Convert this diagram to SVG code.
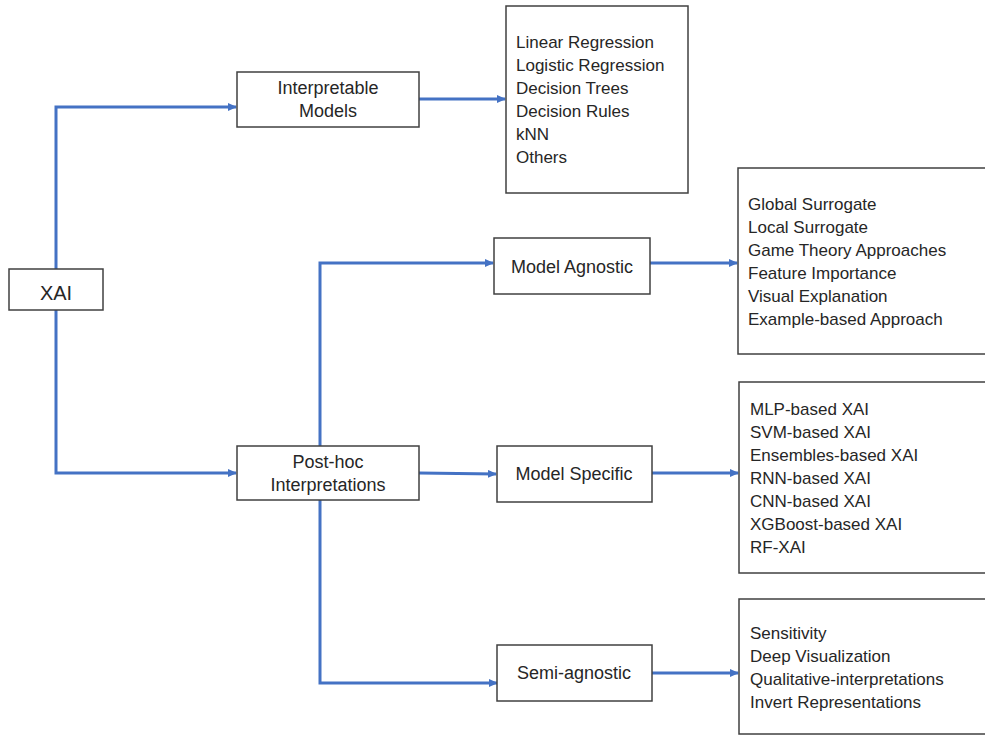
<svg xmlns="http://www.w3.org/2000/svg" width="985" height="735" viewBox="0 0 985 735">
<defs>
<marker id="ah" markerWidth="9" markerHeight="8" refX="8" refY="4" orient="auto" markerUnits="userSpaceOnUse">
<path d="M0,0 L9,4 L0,8 Z" fill="#4472C4"/>
</marker>
<style>
.box{fill:#fff;stroke:#404040;stroke-width:1.5}
.t{font-family:"Liberation Sans",Arial,sans-serif;font-size:17px;fill:#262626}
.c{text-anchor:middle;font-size:18px}
.con{fill:none;stroke:#4472C4;stroke-width:3;marker-end:url(#ah)}
</style>
</defs>
<rect width="985" height="735" fill="#fff"/>
<g id="connectors">
<path class="con" d="M56,269 V107 H236"/>
<path class="con" d="M56,310 V473 H236"/>
<path class="con" d="M419,99 H505"/>
<path class="con" d="M320,446 V263 H493"/>
<path class="con" d="M320,500 V683 H497"/>
<path class="con" d="M419,473 L496,474"/>
<path class="con" d="M650,263 H737"/>
<path class="con" d="M652,473 H738"/>
<path class="con" d="M652,673 H738"/>
</g>
<g id="xai">
<rect class="box" x="9" y="269" width="94" height="41"/>
<text class="t c" x="56" y="300" style="font-size:20px">XAI</text>
</g>
<g id="interpretable">
<rect class="box" x="237" y="72" width="182" height="55"/>
<text class="t c" x="328" y="94">Interpretable</text>
<text class="t c" x="328" y="117">Models</text>
</g>
<g id="interpretable-list">
<rect class="box" x="506" y="6" width="182" height="187"/>
<text class="t" x="516" y="48">Linear Regression</text>
<text class="t" x="516" y="71">Logistic Regression</text>
<text class="t" x="516" y="94">Decision Trees</text>
<text class="t" x="516" y="117">Decision Rules</text>
<text class="t" x="516" y="140">kNN</text>
<text class="t" x="516" y="163">Others</text>
</g>
<g id="posthoc">
<rect class="box" x="237" y="446" width="182" height="54"/>
<text class="t c" x="328" y="468">Post-hoc</text>
<text class="t c" x="328" y="491">Interpretations</text>
</g>
<g id="agnostic">
<rect class="box" x="494" y="238" width="156" height="56"/>
<text class="t c" x="572" y="273">Model Agnostic</text>
</g>
<g id="agnostic-list">
<rect class="box" x="738" y="168" width="260" height="186"/>
<text class="t" x="748" y="210">Global Surrogate</text>
<text class="t" x="748" y="233">Local Surrogate</text>
<text class="t" x="748" y="256">Game Theory Approaches</text>
<text class="t" x="748" y="279">Feature Importance</text>
<text class="t" x="748" y="302">Visual Explanation</text>
<text class="t" x="748" y="325">Example-based Approach</text>
</g>
<g id="specific">
<rect class="box" x="497" y="446" width="155" height="56"/>
<text class="t c" x="574" y="480">Model Specific</text>
</g>
<g id="specific-list">
<rect class="box" x="739" y="382" width="260" height="191"/>
<text class="t" x="750" y="415">MLP-based XAI</text>
<text class="t" x="750" y="438">SVM-based XAI</text>
<text class="t" x="750" y="461">Ensembles-based XAI</text>
<text class="t" x="750" y="484">RNN-based XAI</text>
<text class="t" x="750" y="507">CNN-based XAI</text>
<text class="t" x="750" y="530">XGBoost-based XAI</text>
<text class="t" x="750" y="553">RF-XAI</text>
</g>
<g id="semi">
<rect class="box" x="497" y="645" width="155" height="56"/>
<text class="t c" x="574" y="679">Semi-agnostic</text>
</g>
<g id="semi-list">
<rect class="box" x="739" y="599" width="260" height="135"/>
<text class="t" x="750" y="639">Sensitivity</text>
<text class="t" x="750" y="662">Deep Visualization</text>
<text class="t" x="750" y="685">Qualitative-interpretations</text>
<text class="t" x="750" y="708">Invert Representations</text>
</g>
</svg>
